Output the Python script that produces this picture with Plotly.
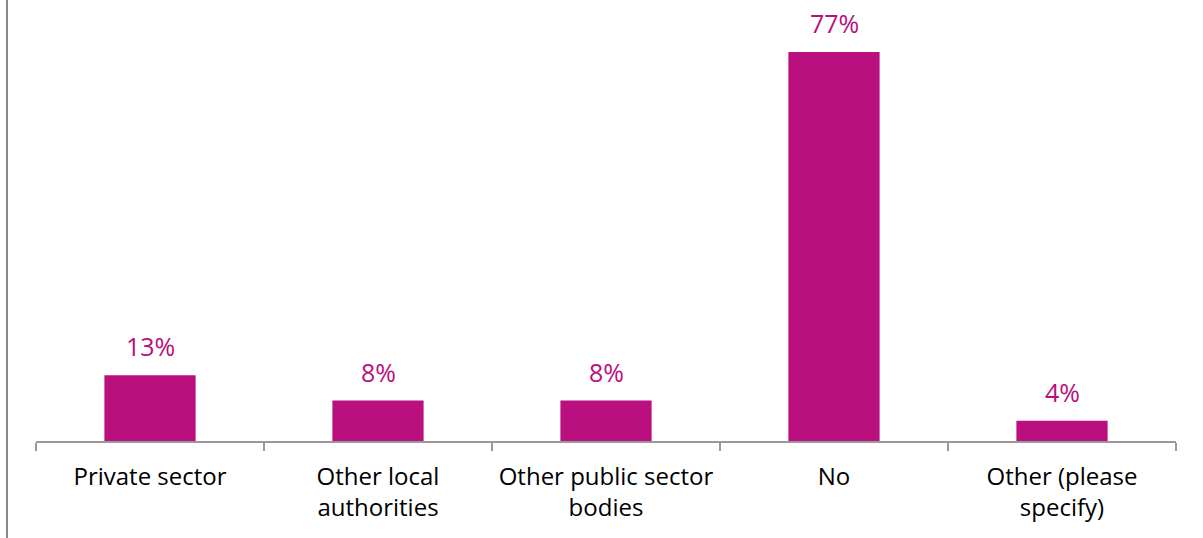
import plotly.graph_objects as go

categories = ["Private sector", "Other local<br>authorities", "Other public sector<br>bodies", "No", "Other (please<br>specify)"]
values = [13, 8, 8, 77, 4]
value_labels = ["13%", "8%", "8%", "77%", "4%"]

BAR_COLOR = "#BA0F7E"
AXIS_COLOR = "#999999"
FONT = "Open Sans"

fig = go.Figure(
    go.Bar(
        x=categories,
        y=values,
        marker=dict(color=BAR_COLOR, line=dict(width=0)),
        width=0.4,
        hoverinfo="x+y",
    )
)

# value labels above each bar
for cat, val, lab in zip(categories, values, value_labels):
    fig.add_annotation(
        x=cat,
        y=val,
        text=lab,
        showarrow=False,
        yanchor="bottom",
        yshift=10,
        font=dict(family=FONT, size=25, color=BAR_COLOR),
    )

fig.update_layout(
    width=1203,
    height=538,
    margin=dict(l=36, r=27, t=0, b=97),
    paper_bgcolor="white",
    plot_bgcolor="white",
    showlegend=False,
    font=dict(family=FONT, size=24, color="black"),
    xaxis=dict(
        range=[-0.5, 4.5],
        showline=True,
        linecolor=AXIS_COLOR,
        linewidth=2,
        ticks="outside",
        tickson="boundaries",
        ticklen=8,
        tickwidth=2,
        tickcolor=AXIS_COLOR,
        ticklabelstandoff=13,
        showgrid=False,
        tickfont=dict(family=FONT, size=24, color="black"),
    ),
    yaxis=dict(
        range=[0, 87.3],
        visible=False,
        showgrid=False,
        zeroline=False,
    ),
    shapes=[
        dict(
            type="line",
            xref="paper",
            yref="paper",
            x0=-29 / 1140,
            x1=-29 / 1140,
            y0=-97 / 441,
            y1=1,
            line=dict(color="#888888", width=2),
        )
    ],
)

fig.write_html("out.html")
